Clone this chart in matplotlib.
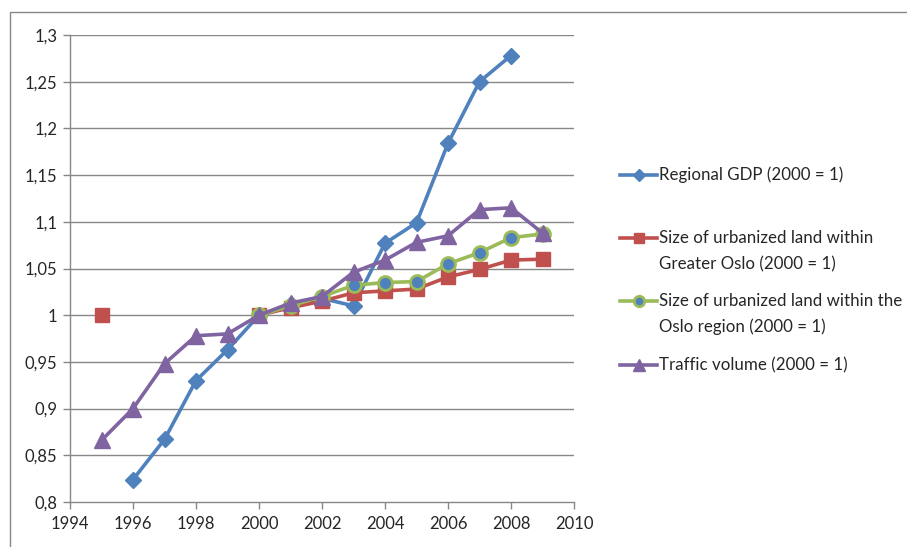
import numpy as np
import matplotlib
matplotlib.use("Agg")
import matplotlib.pyplot as plt
from matplotlib.lines import Line2D
from matplotlib.patches import Rectangle

plt.rcParams['font.family'] = ['Lato', 'DejaVu Sans']

years = [1995, 1996, 1997, 1998, 1999, 2000, 2001, 2002, 2003, 2004, 2005, 2006, 2007, 2008, 2009]
nan = np.nan
gdp = [nan, 0.824, 0.867, 0.930, 0.963, 1.000, 1.012, 1.018, 1.010, 1.077, 1.099, 1.184, 1.250, 1.278, nan]
greater_oslo = [1.000, nan, nan, nan, nan, 1.000, 1.008, 1.015, 1.024, 1.026, 1.028, 1.041, 1.049, 1.059, 1.060]
oslo_region = [nan, nan, nan, nan, nan, 1.000, 1.010, 1.020, 1.032, 1.035, 1.036, 1.055, 1.067, 1.083, 1.087]
traffic = [0.866, 0.900, 0.948, 0.978, 0.980, 1.000, 1.013, 1.020, 1.046, 1.059, 1.078, 1.085, 1.113, 1.115, 1.088]

labels = ["Regional GDP (2000 = 1)",
          "Size of urbanized land within\nGreater Oslo (2000 = 1)",
          "Size of urbanized land within the\nOslo region (2000 = 1)",
          "Traffic volume (2000 = 1)"]

yticks = [0.8, 0.85, 0.9, 0.95, 1.0, 1.05, 1.1, 1.15, 1.2, 1.25, 1.3]
ytick_labels = ["0,8", "0,85", "0,9", "0,95", "1", "1,05", "1,1", "1,15", "1,2", "1,25", "1,3"]
xticks = [1994, 1996, 1998, 2000, 2002, 2004, 2006, 2008, 2010]

blue = '#4F81BD'
red = '#C0504D'
green = '#9BBB59'
purple = '#8064A2'
grid_c = '#878787'
txt_c = '#262626'

W, H = 907, 547
fig = plt.figure(figsize=(W/100, H/100), dpi=100)
ax = fig.add_axes([70/W, 1-502/H, (574-70)/W, (502-35)/H])

ax.set_xlim(1994, 2010)
ax.set_ylim(0.8, 1.3)
ax.set_yticks(yticks)
ax.set_yticklabels(ytick_labels)
ax.set_xticks(xticks)
ax.set_xticklabels([str(x) for x in xticks])

for y in yticks[1:]:
    ax.axhline(y, color=grid_c, lw=1.0, zorder=0)

for s in ['top', 'right']:
    ax.spines[s].set_visible(False)
for s in ['left', 'bottom']:
    ax.spines[s].set_color(grid_c)
    ax.spines[s].set_linewidth(1.0)
ax.tick_params(axis='both', direction='out', length=5, width=1.0, color=grid_c,
               labelsize=12, labelcolor=txt_c, pad=4)
ax.tick_params(axis='x', pad=5)

lw = 2.6
l1, = ax.plot(years, gdp, color=blue, lw=lw, marker='D', ms=8.5, mfc=blue, mec=blue, zorder=3)
l2, = ax.plot(years, greater_oslo, color=red, lw=lw, marker='s', ms=9.5, mfc=red, mec=red, zorder=4)
l3, = ax.plot(years, oslo_region, color=green, lw=lw, marker='o', ms=10, mfc=blue, mec=green, mew=2, zorder=5)
l4, = ax.plot(years, traffic, color=purple, lw=lw, marker='^', ms=11, mfc=purple, mec=purple, zorder=6)

# legend (manual, Excel-like layout)
entries = [(l1, [175]), (l2, [238, 264]), (l3, [301, 327]), (l4, [365])]
for (ln, ys), lab in zip(entries, labels):
    yf = 1 - ys[0]/H
    fig.add_artist(Line2D([620/W, 657/W], [yf, yf], color=ln.get_color(), lw=lw,
                          transform=fig.transFigure))
    fig.add_artist(Line2D([638.5/W], [yf], marker=ln.get_marker(), ms=ln.get_markersize()*0.75,
                          mfc=ln.get_markerfacecolor(), mec=ln.get_markeredgecolor(),
                          mew=ln.get_markeredgewidth(), lw=0, transform=fig.transFigure))
    for ypx, line in zip(ys, lab.split("\n")):
        fig.text(659/W, 1 - ypx/H, line, ha='left', va='center',
                 fontsize=12.2, color=txt_c)

# chart frame (partially visible)
fig.add_artist(Rectangle((10/W, -0.1), 1.2, 1 - 12/H + 0.1, fill=False,
                         edgecolor=grid_c, lw=1.0, transform=fig.transFigure))

fig.savefig('out.png', dpi=100)
